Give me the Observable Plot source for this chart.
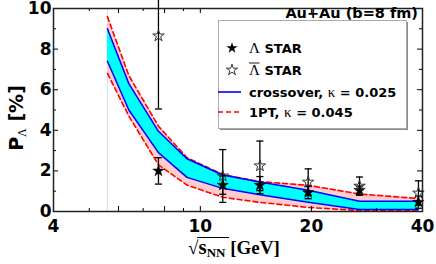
<!DOCTYPE html>
<html><head><meta charset="utf-8">
<script src="https://cdn.jsdelivr.net/npm/d3@7"></script>
<script src="https://cdn.jsdelivr.net/npm/@observablehq/plot@0.6"></script>
<style>body{margin:0;background:#fff;} #chart{width:436px;height:264px;}</style>
</head><body><div id="chart"></div>
<script>
// model curves (sqrt(s_NN) in GeV, P_Lambda in %)
const energies  = [5.6, 6.4, 7.7, 9.2, 11.5, 14.5, 19.6, 27, 39];
const crossLow  = [7.4, 5.0, 2.9, 1.68, 1.14, 0.82, 0.45, 0.10, 0.10];
const crossHigh = [9.0, 6.3, 3.95, 2.6, 1.8, 1.45, 1.05, 0.50, 0.50];
const fopLow    = [6.8, 4.7, 2.3, 1.3, 0.70, 0.45, 0.20, 0.05, 0.03];
const fopHigh   = [9.6, 6.7, 4.2, 2.65, 1.82, 1.47, 1.29, 0.86, 0.64];
// STAR data
const starE   = [7.7, 11.5, 14.5, 19.6, 27, 39];
const lamP    = [2.0, 1.3, 1.3, 0.93, 1.05, 0.46];
const lamErr  = [0.65, 0.45, 0.42, 0.30, 0.20, 0.30];
const alamP   = [8.65, 1.75, 2.25, 1.45, 1.25, 0.91];
const alamErr = [3.6, 1.3, 1.22, 0.65, 0.45, 0.60];
// ticks
const xMajor = [4, 6, 8, 10, 20, 40];
const xMinor = [5, 7, 9, 30];
const yMajor = [0, 2, 4, 6, 8, 10];
const yMinor = [1, 3, 5, 7, 9];

const model = energies.map((e, i) => ({e, cl: crossLow[i], ch: crossHigh[i], fl: fopLow[i], fh: fopHigh[i]}));
const lam = starE.map((e, i) => ({e, p: lamP[i], lo: lamP[i] - lamErr[i], hi: lamP[i] + lamErr[i]}));
const alam = starE.map((e, i) => ({e, p: alamP[i], lo: alamP[i] - alamErr[i], hi: alamP[i] + alamErr[i]}));

const W = 436, H = 264, mL = 53, mR = 14, mT = 8, mB = 53;
const pw = W - mL - mR, ph = H - mT - mB;
const cap = {draw(ctx, size) { const w = Math.sqrt(size) / 2; ctx.moveTo(-w, 0); ctx.lineTo(w, 0); }};
const axisFont = {fontSize: 17, fontWeight: "bold", fontFamily: "DejaVu Sans", fill: "black"};

const plot = Plot.plot({
  width: W, height: H,
  marginLeft: mL, marginRight: mR, marginTop: mT, marginBottom: mB,
  style: {fontFamily: "DejaVu Sans", background: "white", overflow: "visible"},
  x: {type: "log", domain: [4, 40]},
  y: {domain: [0, 10]},
  marks: [
    Plot.ruleX([energies[0]], {stroke: "#cfe4ea", strokeWidth: 1}),
    Plot.areaY(model, {x: "e", y1: "fl", y2: "fh", fill: "#ffcccc"}),
    Plot.areaY(model, {x: "e", y1: "cl", y2: "ch", fill: "#00ffff"}),
    Plot.line(model, {x: "e", y: "fl", stroke: "#ff0000", strokeWidth: 1.6, strokeDasharray: "5,3"}),
    Plot.line(model, {x: "e", y: "fh", stroke: "#ff0000", strokeWidth: 1.6, strokeDasharray: "5,3"}),
    Plot.line(model, {x: "e", y: "cl", stroke: "#0000ff", strokeWidth: 1.5}),
    Plot.line(model, {x: "e", y: "ch", stroke: "#0000ff", strokeWidth: 1.5}),
    // error bars
    Plot.ruleX(alam, {x: "e", y1: "lo", y2: "hi", stroke: "black", strokeWidth: 1.3}),
    Plot.ruleX(lam, {x: "e", y1: "lo", y2: "hi", stroke: "black", strokeWidth: 1.3}),
    Plot.dot(alam, {x: "e", y: "lo", symbol: cap, r: 4, stroke: "black", strokeWidth: 1.3}),
    Plot.dot(alam, {x: "e", y: "hi", symbol: cap, r: 4, stroke: "black", strokeWidth: 1.3}),
    Plot.dot(lam, {x: "e", y: "lo", symbol: cap, r: 4, stroke: "black", strokeWidth: 1.3}),
    Plot.dot(lam, {x: "e", y: "hi", symbol: cap, r: 4, stroke: "black", strokeWidth: 1.3}),
    Plot.dot(lam, {x: "e", y: "p", symbol: "star", r: 3.6, fill: "black", stroke: "black", strokeWidth: 0.5}),
    Plot.dot(alam, {x: "e", y: "p", symbol: "star", r: 3.6, fill: "none", stroke: "#333", strokeWidth: 1}),
    // inward ticks
    Plot.ruleX(xMajor, {x: d => d, insetTop: ph - 5, stroke: "black"}),
    Plot.ruleX(xMinor, {x: d => d, insetTop: ph - 3, stroke: "black"}),
    Plot.ruleX(xMajor, {x: d => d, insetBottom: ph - 5, stroke: "black"}),
    Plot.ruleX(xMinor, {x: d => d, insetBottom: ph - 3, stroke: "black"}),
    Plot.ruleY(yMajor, {y: d => d, insetRight: pw - 5, stroke: "black"}),
    Plot.ruleY(yMinor, {y: d => d, insetRight: pw - 3, stroke: "black"}),
    Plot.ruleY(yMajor, {y: d => d, insetLeft: pw - 5, stroke: "black"}),
    Plot.ruleY(yMinor, {y: d => d, insetLeft: pw - 3, stroke: "black"}),
    Plot.frame({stroke: "#222", strokeWidth: 1.5}),
    Plot.axisX(xMajor, {anchor: "bottom", tickSize: 0, tickPadding: 8, tickFormat: d => String(d), label: null, ...axisFont}),
    Plot.axisY(yMajor, {anchor: "left", tickSize: 0, tickPadding: 2, tickFormat: d => String(d), label: null, ...axisFont})
  ]
});
document.getElementById("chart").appendChild(plot);

const svg = d3.select(plot);
const g = svg.append("g").attr("text-anchor", "start");
const SANS = "DejaVu Sans", SERIF = "Liberation Serif, DejaVu Serif, serif";

// title
g.append("text").attr("x", 418).attr("y", 18).attr("text-anchor", "end")
  .attr("font-family", SANS).attr("font-weight", "bold").attr("font-size", 14.5).text("Au+Au (b=8 fm)");

// legend box
g.append("rect").attr("x", 220).attr("y", 22).attr("width", 188).attr("height", 108).attr("fill", "#8a8a8a");
g.append("rect").attr("x", 218.5).attr("y", 20.5).attr("width", 188).attr("height", 108).attr("fill", "white").attr("stroke", "#aaa").attr("stroke-width", 1);

const rows = [48, 70, 92, 112];
const starPath = d3.symbol(d3.symbolStar, 38)();
g.append("path").attr("d", starPath).attr("transform", `translate(232,${rows[0]})`).attr("fill", "black");
g.append("path").attr("d", starPath).attr("transform", `translate(232,${rows[1]})`).attr("fill", "none").attr("stroke", "#333");
g.append("line").attr("x1", 218).attr("x2", 241).attr("y1", rows[2]).attr("y2", rows[2]).attr("stroke", "#0000ff").attr("stroke-width", 1.6);
g.append("line").attr("x1", 218).attr("x2", 241).attr("y1", rows[3]).attr("y2", rows[3]).attr("stroke", "#ff0000").attr("stroke-width", 1.6).attr("stroke-dasharray", "5,3");

function legendRow(y, parts) {
  const t = g.append("text").attr("x", 249).attr("y", y + 5).attr("text-anchor", "start");
  for (const [s, fam, w, size] of parts) {
    t.append("tspan").attr("font-family", fam).attr("font-weight", w).attr("font-size", size).text(s);
  }
  return t;
}
legendRow(rows[0], [["Λ", SERIF, "normal", 15], ["\u00a0STAR", SANS, "bold", 13]]);
legendRow(rows[1], [["Λ", SERIF, "normal", 15], ["\u00a0STAR", SANS, "bold", 13]]);
g.append("line").attr("x1", 249).attr("x2", 259.5).attr("y1", rows[1] - 7).attr("y2", rows[1] - 7).attr("stroke", "black").attr("stroke-width", 0.9);
legendRow(rows[2], [["crossover,\u00a0", SANS, "bold", 13], ["κ", SERIF, "normal", 15], ["\u00a0=\u00a00.025", SANS, "bold", 13]]);
legendRow(rows[3], [["1PT,\u00a0", SANS, "bold", 13], ["κ", SERIF, "normal", 15], ["\u00a0=\u00a00.045", SANS, "bold", 13]]);

// y label
const yl = g.append("text").attr("transform", "translate(23,118) rotate(-90)").attr("text-anchor", "middle")
  .attr("font-family", SANS).attr("font-weight", "bold").attr("font-size", 19);
yl.append("tspan").text("P");
yl.append("tspan").text("Λ").attr("font-family", SERIF).attr("font-weight", "normal").attr("font-size", 12).attr("dy", 3);
yl.append("tspan").text("\u00a0[%]").attr("dy", -3);

// x label
const xl = g.append("text").attr("x", 188).attr("y", 254).attr("text-anchor", "start")
  .attr("font-family", SERIF).attr("font-weight", "bold").attr("font-size", 19);
xl.append("tspan").text("√");
xl.append("tspan").text("s").attr("font-size", 21);
xl.append("tspan").text("NN").attr("font-size", 13).attr("dy", 3);
xl.append("tspan").text("\u00a0[GeV]").attr("dy", -3);
g.append("line").attr("x1", 197).attr("x2", 229).attr("y1", 237.5).attr("y2", 237.5).attr("stroke", "black").attr("stroke-width", 1);
</script></body></html>
